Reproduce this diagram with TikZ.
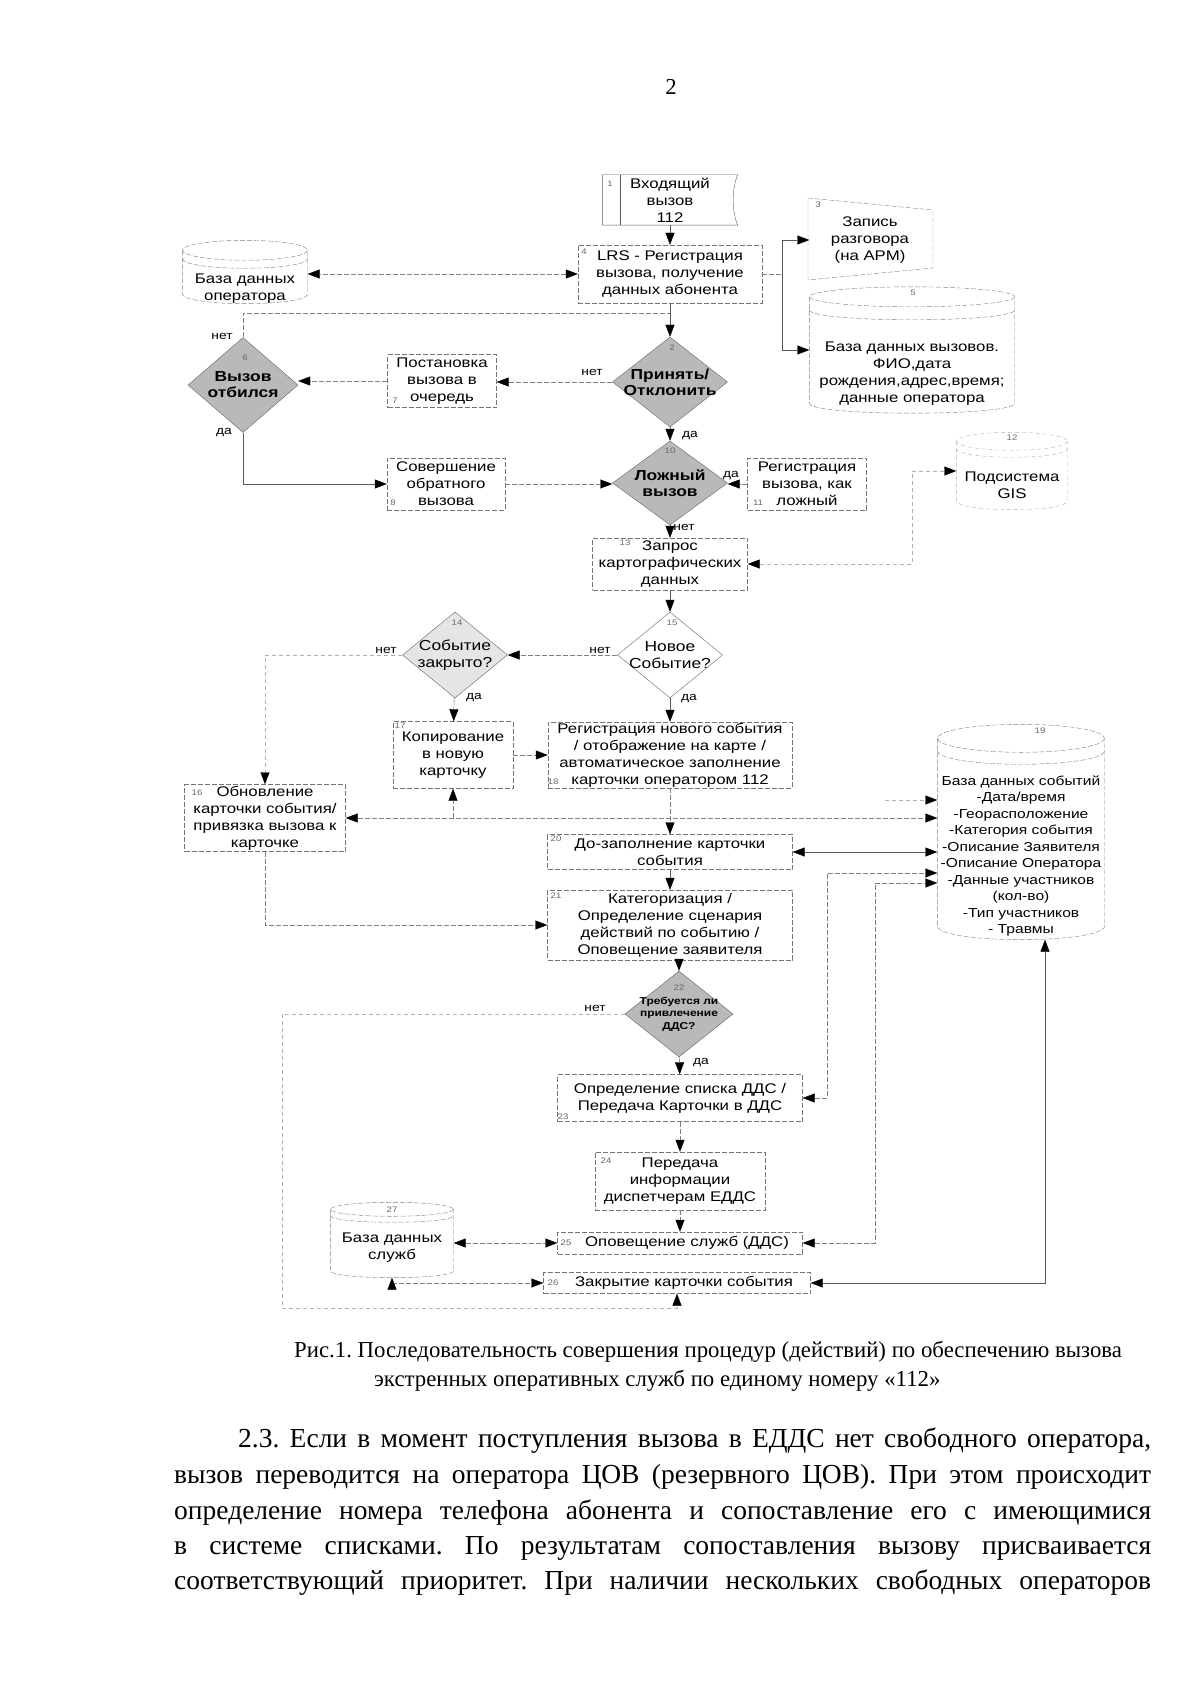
\documentclass[tikz,border=0pt]{standalone}
\usepackage{fontspec}
\setmainfont{Liberation Serif}
\newfontfamily\diafont[FakeStretch=1.2]{Liberation Sans}
\usetikzlibrary{shapes.geometric,arrows.meta}

\newcommand\boxfont{\diafont\fontsize{14}{17}\selectfont}
\newcommand\dbfont{\diafont\fontsize{13}{16.5}\selectfont}
\newcommand\qfont{\diafont\bfseries\fontsize{14.5}{16}\selectfont}
\newcommand\qlightfont{\diafont\fontsize{14.5}{16.5}\selectfont}
\newcommand\ddsfont{\diafont\bfseries\fontsize{10}{12.5}\selectfont}
\newcommand\numfont{\diafont\fontsize{8}{8}\selectfont}
\newcommand\ynfont{\diafont\fontsize{11.5}{11.5}\selectfont}
\newcommand\capfont{\frenchspacing\fontsize{22.8}{28}\selectfont}
\newcommand\txtfont{\frenchspacing\fontsize{27.5}{35}\selectfont}

% database outline round a store node: [style]{node}{x radius}{y radius}{gap}
\newcommand\storeoutline[5][link]{%
    \draw[#1] ([yshift=-#4pt]#2.north west) -- ([yshift=#4pt]#2.south west)
        .. controls +(0,1.33*#4) and +(0,1.33*#4) .. ([yshift=#4pt]#2.south east)
        -- ([yshift=-#4pt]#2.north east);
    \draw[#1] ([yshift=-#4pt]#2.north) ellipse [x radius=#3, y radius=#4];
    \draw[#1] ([yshift={-#4pt-#5pt}]#2.north west) .. controls +(0,1.33*#4) and +(0,1.33*#4)
        .. ([yshift={-#4pt-#5pt}]#2.north east);
}

\begin{document}
\begin{tikzpicture}[x=1pt, y=-1pt,
    >={Triangle[length=12pt,width=9pt,color=black]},
    box/.style={rectangle, draw=black!55, dash pattern=on 5pt off 2pt, fill=white,
        inner sep=0.5pt, align=center, font=\boxfont},
    decision/.style={diamond, draw=black!60, fill=gray!55, inner sep=0pt},
    store/.style={rectangle, inner sep=0pt},
    qtext/.style={align=center, font=\qfont},
    dbtext/.style={align=center, font=\boxfont},
    num/.style={font=\numfont, text=black!60, inner sep=0pt},
    yesno/.style={font=\ynfont, inner sep=1pt},
    line/.style={draw=black!65, thin},
    link/.style={draw=black!50, thin, dash pattern=on 5pt off 2pt},
    faint/.style={draw=black!30, thin, dash pattern=on 4pt off 3pt}
]
    \fill[white] (0,0) rectangle (1200,1696);
    \useasboundingbox (0,0) rectangle (1200,1696);

    \node[font=\capfont] (page) at (671,87) {2};

    % call intake
    \node[box, draw=none, fill=none, minimum width=135pt, minimum height=50pt] (incall) at (670,200) {Входящий\\вызов\\112};
    \draw[line] (incall.north east) -- (incall.north west) -- (incall.south west) -- (incall.south east)
        .. controls +(-6,-14) and +(-6,14) .. (incall.north east);
    \draw[line] ([xshift=18pt]incall.north west) -- ([xshift=18pt]incall.south west);
    \node[num] (n01) at (610,184) {1};

    \node[box, minimum width=184pt, minimum height=58pt] (lrs) at (670,274) {LRS - Регистрация\\вызова, получение\\данных абонента};
    \node[num] (n04) at (584,252) {4};

    \node[store, minimum width=125pt, minimum height=63pt,
        label={[dbtext, yshift=-17pt]center:{База данных\\оператора}}] (dbop) at (245,272) {};
    \storeoutline{dbop}{62.5}{10}{8}

    \node[align=center, font=\boxfont, inner sep=0pt] (rec) at (870,240) {Запись\\разговора\\(на АРМ)};
    \draw[link, shift={(rec.center)}] (-62,-42) -- (63,-30) -- (63,28) -- (-62,40) -- cycle;
    \node[num] (n03) at (818,205) {3};

    \node[store, minimum width=205pt, minimum height=126pt,
        label={[dbtext, yshift=-24pt]center:{База данных вызовов.\\ФИО,дата\\рождения,адрес,время;\\данные оператора}}] (dbcalls) at (912,350) {};
    \storeoutline{dbcalls}{102.5}{10}{13}
    \node[num] (n05) at (913,293) {5};

    % accept or drop
    \node[decision, minimum width=115pt, minimum height=90pt,
        label={[qtext]center:{Принять/\\Отклонить}}] (q2) at (670,382) {};
    \node[num] (n02) at (672,348) {2};
    \node[decision, minimum width=110pt, minimum height=95pt,
        label={[qtext]center:{Вызов\\отбился}}] (q6) at (243,385) {};
    \node[num] (n06) at (245,358) {6};
    \node[box, minimum width=109pt, minimum height=53pt] (queue) at (442,381) {Постановка\\вызова в\\очередь};
    \node[num] (n07) at (395,401) {7};

    \node[decision, minimum width=115pt, minimum height=84pt,
        label={[qtext]center:{Ложный\\вызов}}] (q10) at (670,483) {};
    \node[num] (n10) at (670,451) {10};
    \node[box, minimum width=119pt, minimum height=52pt] (falsereg) at (807,484) {Регистрация\\вызова, как\\ложный};
    \node[num] (n11) at (758,503) {11};
    \node[box, minimum width=118pt, minimum height=52pt] (callback) at (446,484) {Совершение\\обратного\\вызова};
    \node[num] (n08) at (393,503) {8};

    \node[store, minimum width=111pt, minimum height=77pt,
        label={[dbtext, yshift=-14pt]center:{Подсистема\\GIS}}] (gis) at (1012,471) {};
    \storeoutline[faint]{gis}{55.5}{9}{7}
    \node[num] (n12) at (1012,438) {12};

    % event card
    \node[box, minimum width=155pt, minimum height=52pt] (mapreq) at (670,564) {Запрос\\картографических\\данных};
    \node[num] (n13) at (625,543) {13};

    \node[decision, fill=white, minimum width=105pt, minimum height=86pt,
        label={[qtext, font=\qlightfont]center:{Новое\\Событие?}}] (q16) at (670,655) {};
    \node[num] (n15) at (672,623) {15};
    \node[decision, fill=gray!20, minimum width=105pt, minimum height=86pt,
        label={[qtext, font=\qlightfont]center:{Событие\\закрыто?}}] (q14) at (455,655) {};
    \node[num] (n14) at (457,623) {14};

    \node[box, minimum width=120pt, minimum height=67pt] (copy) at (453,755) {Копирование\\в новую\\карточку};
    \node[num] (n17) at (400,726) {17};
    \node[box, minimum width=244pt, minimum height=66pt] (regnew) at (670,755) {Регистрация нового события\\/ отображение на карте /\\автоматическое заполнение\\карточки оператором 112};
    \node[num] (n18) at (553,782) {18};
    \node[box, minimum width=161pt, minimum height=67pt] (update) at (265,818) {Обновление\\карточки события/\\привязка вызова к\\карточке};
    \node[num] (n16) at (197,793) {16};

    \node[store, minimum width=167pt, minimum height=215pt,
        label={[dbtext, font=\dbfont, yshift=-24pt]center:{База данных событий\\-Дата/время\\-Георасположение\\-Категория события\\-Описание Заявителя\\-Описание Оператора\\-Данные участников\\(кол-во)\\-Тип участников\\- Травмы}}] (dbev) at (1021,832) {};
    \storeoutline{dbev}{83.5}{14}{12}
    \node[num] (n19) at (1040,731) {19};

    \node[box, minimum width=245pt, minimum height=35pt] (fill) at (670,852) {До-заполнение карточки\\события};
    \node[num] (n20) at (556,839) {20};
    \node[box, minimum width=245pt, minimum height=70pt] (categ) at (670,925) {Категоризация /\\Определение сценария\\действий по событию /\\Оповещение заявителя};
    \node[num] (n21) at (556,896) {21};

    % services
    \node[decision, minimum width=108pt, minimum height=86pt,
        label={[qtext, font=\ddsfont]center:{Требуется ли\\привлечение\\ДДС?}}] (q22) at (679,1014) {};
    \node[num] (n22) at (679,988) {22};
    \node[box, minimum width=245pt, minimum height=47pt] (ddslist) at (680,1098) {Определение списка ДДС /\\Передача Карточки в ДДС};
    \node[num] (n23) at (563,1117) {23};
    \node[box, minimum width=170pt, minimum height=58pt] (relay) at (680,1181) {Передача\\информации\\диспетчерам ЕДДС};
    \node[num] (n24) at (606,1161) {24};
    \node[box, minimum width=245pt, minimum height=22pt] (notify) at (680,1243) {\hspace*{14pt}Оповещение служб (ДДС)};
    \node[num] (n25) at (566,1243) {25};
    \node[box, minimum width=267pt, minimum height=21pt] (close) at (677,1283) {\hspace*{14pt}Закрытие карточки события};
    \node[num] (n26) at (553,1283) {26};
    \node[store, minimum width=123pt, minimum height=75pt,
        label={[dbtext, yshift=-8pt]center:{База данных\\служб}}] (dbsrv) at (392,1240) {};
    \storeoutline{dbsrv}{61.5}{7}{6}
    \node[num] (n27) at (392,1210) {27};

    % yes / no
    \node[yesno] (y1) at (222,336) {нет};
    \node[yesno] (y2) at (224,433) {да};
    \node[yesno] (y3) at (592,372) {нет};
    \node[yesno] (y4) at (690,436) {да};
    \node[yesno] (y5) at (731,476) {да};
    \node[yesno] (y6) at (684,527) {нет};
    \node[yesno] (y7) at (600,650) {нет};
    \node[yesno] (y8) at (386,650) {нет};
    \node[yesno] (y9) at (474,698) {да};
    \node[yesno] (y10) at (689,699) {да};
    \node[yesno] (y11) at (595,1008) {нет};
    \node[yesno] (y12) at (701,1063) {да};

    % connectors
    \draw[line, ->] (incall) -- (lrs);
    \draw[link, <->] (lrs.west) -- (lrs.west -| dbop.east);
    \draw[line, ->] (lrs) -- (q2);
    \coordinate (j1) at (670,313);
    \draw[link] (q6.north) |- (j1);
    \coordinate (j2) at (782,274);
    \draw[link] (lrs.east) -- (j2);
    \draw[line, ->] (j2) |- (rec.west -| dbcalls.west);
    \draw[line, ->] (j2) |- (dbcalls.west);
    \draw[link, ->] (q2.west) -- (q2.west -| queue.east);
    \draw[link, ->] (queue.west) -- (queue.west -| q6.east);
    \draw[line, ->] (q2) -- (q10);
    \draw[line, ->] (q6.south) |- (callback.west);
    \draw[link, ->] (callback.east) -- (callback.east -| q10.west);
    \draw[link, ->] (falsereg.west) -- (falsereg.west -| q10.east);
    \draw[line, ->] (q10) -- (mapreq);
    \coordinate (g1) at (912,564);
    \draw[faint, <->] (mapreq.east) -- (g1) |- (gis.west);
    \draw[line, ->] (mapreq) -- (q16);
    \draw[link, ->] (q16.west) -- (q14.east);
    \draw[faint, ->] (q14.west) -| (update.north);
    \draw[line, ->] (q14) -- (copy);
    \draw[line, ->] (q16) -- (regnew);
    \draw[link, ->] (copy.east) -- (regnew.west);
    \draw[link, ->] (regnew) -- (fill);
    \draw[link, <->] (update.east) -- (update.east -| dbev.west);
    \draw[link, ->] (update.east -| copy.south) -- (copy.south);
    \coordinate (e1) at (885,800);
    \draw[faint, ->] (e1) -- (e1 -| dbev.west);
    \draw[line, <->] (fill.east) -- (fill.east -| dbev.west);
    \draw[line, ->] (fill) -- (categ);
    \draw[link, ->] (update.south) |- (categ.west);
    \draw[line, ->] (categ.south -| q22.north) -- (q22.north);
    \coordinate (n1) at (282,1308);
    \draw[faint, ->] (q22.west) -| (n1) -| (close.south);
    \draw[line, ->] (q22) -- (ddslist);
    \coordinate (d1) at (827,873);
    \draw[link, <->] (ddslist.east) -| (d1) -- (d1 -| dbev.west);
    \coordinate (d2) at (875,883);
    \draw[link, <->] (notify.east) -| (d2) -- (d2 -| dbev.west);
    \draw[link, ->] (ddslist) -- (relay);
    \draw[link, ->] (relay) -- (notify);
    \draw[link, <->] (notify.west -| dbsrv.east) -- (notify.west);
    \draw[link, <->] (dbsrv.south) |- (close.west);
    \draw[line, <->] ([xshift=24pt]dbev.south) |- (close.east);

    % caption and text
    \node[anchor=west, font=\capfont, inner sep=0pt] (cap1) at (294,1352) {Рис.1. Последовательность совершения процедур (действий) по обеспечению вызова};
    \node[anchor=west, font=\capfont, inner sep=0pt] (cap2) at (374,1381) {экстренных оперативных служб по единому номеру «112»};
    \node[anchor=west, font=\txtfont, inner sep=0pt] (p1) at (238,1441) {\makebox[913pt][s]{2.3. Если в момент поступления вызова в ЕДДС нет свободного оператора,}};
    \node[anchor=west, font=\txtfont, inner sep=0pt] (p2) at (174,1477) {\makebox[977pt][s]{вызов переводится на оператора ЦОВ (резервного ЦОВ). При этом происходит}};
    \node[anchor=west, font=\txtfont, inner sep=0pt] (p3) at (174,1513) {\makebox[977pt][s]{определение номера телефона абонента и сопоставление его с имеющимися}};
    \node[anchor=west, font=\txtfont, inner sep=0pt] (p4) at (174,1548) {\makebox[977pt][s]{в системе списками. По результатам сопоставления вызову присваивается}};
    \node[anchor=west, font=\txtfont, inner sep=0pt] (p5) at (174,1583) {\makebox[977pt][s]{соответствующий приоритет. При наличии нескольких свободных операторов}};
\end{tikzpicture}
\end{document}
